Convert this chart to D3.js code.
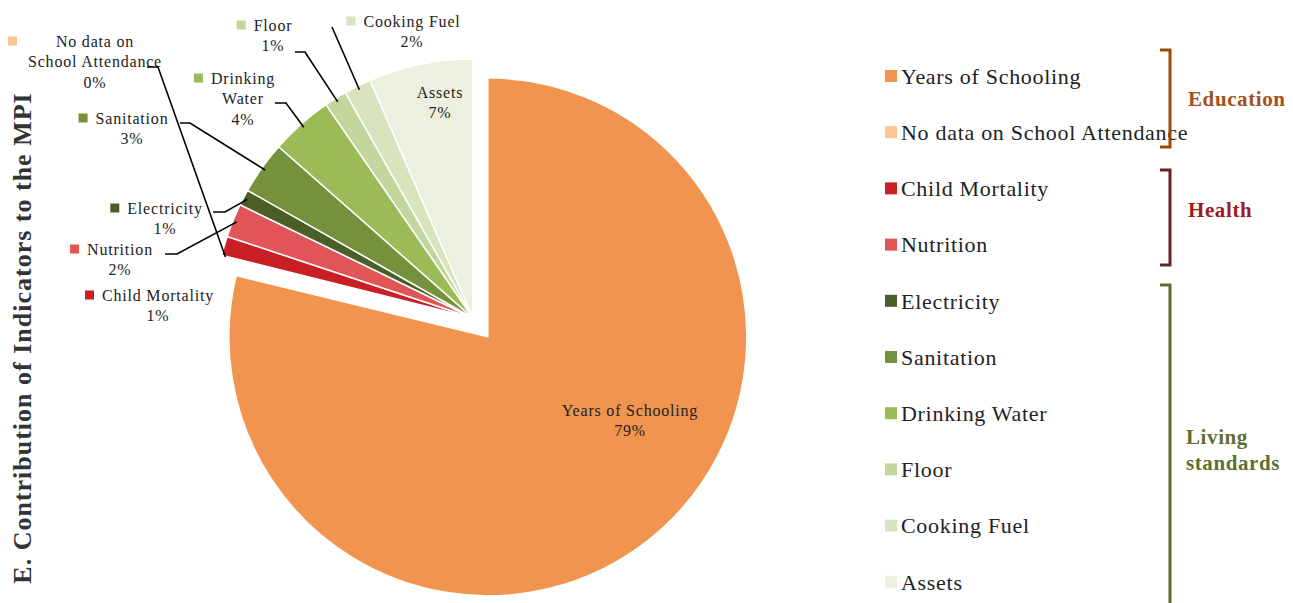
<!DOCTYPE html>
<html>
<head>
<meta charset="utf-8">
<script src="https://cdn.jsdelivr.net/npm/d3@7"></script>
<style>
  body { margin: 0; background: #fff; }
  text { font-family: "Liberation Serif", "DejaVu Serif", serif; fill: #222; }
</style>
</head>
<body>
<div id="chart"></div>
<script>
// indicator names, clockwise from 12 o'clock
let indicators = ["Years of Schooling", "No data on School Attendance", "Child Mortality", "Nutrition",
    "Electricity", "Sanitation", "Drinking Water", "Floor", "Cooking Fuel", "Assets"]
// share of the MPI (%)
let shares = [78.8, 0.1, 1.2, 2.1, 1.0, 3.3, 3.9, 1.4, 1.7, 6.5]
let colors = ["#f0944f", "#fcc690", "#c91f25", "#e15457", "#4b5e27", "#76913b", "#9bbb59", "#c3d69b", "#d7e4bd", "#ebf1de"]
// dimension groups for the bracket legend
let groups = ["Education", "Health", "Living standards"]
let groupSizes = [2, 2, 6]
let groupColors = ["#a0521a", "#9b1c22", "#5c7030"]
let bracketColors = ["#9c4a0b", "#6b2226", "#5a6e2e"]

let WIDTH = 1293, HEIGHT = 603
let CX = 473, CY = 318, R = 259
let EXPLODE = 24

let svg = d3.select("#chart").append("svg")
    .attr("width", WIDTH)
    .attr("height", HEIGHT)

// title on the left
svg.append("text")
    .attr("transform", `translate(31, 338) rotate(-90)`)
    .attr("text-anchor", "middle")
    .attr("font-size", "26px")
    .attr("letter-spacing", "1px")
    .attr("font-weight", "bold")
    .style("fill", "#333")
    .text("E. Contribution of Indicators to the MPI")

let data = indicators.map((name, i) => ({name: name, value: shares[i], color: colors[i]}))

let pie = d3.pie().sort(null).value(d => d.value)
let arcs = pie(data)
let arc = d3.arc().innerRadius(0).outerRadius(R)

let g = svg.append("g").attr("transform", `translate(${CX}, ${CY})`)

g.selectAll("path")
    .data(arcs)
    .enter().append("path")
    .attr("d", arc)
    .attr("fill", d => d.data.color)
    .attr("stroke", "#fff")
    .attr("stroke-width", 1.5)
    .attr("transform", (d, i) => {
        if (i != 0) return null
        let a = (d.startAngle + d.endAngle) / 2
        return `translate(${EXPLODE * Math.sin(a)}, ${-EXPLODE * Math.cos(a)})`
    })

// data labels (label box centre, leader line start)
let labelLayout = [
    {x: 157, y: 410, inside: true},
    {x: 95, y: 41, line: [147, 67, 158, 67]},
    {x: 158, y: 295},
    {x: 120, y: 249, line: [165, 254, 177, 254]},
    {x: 165, y: 208, line: [213, 212, 225, 212]},
    {x: 132, y: 118, line: [180, 123, 190, 123]},
    {x: 243, y: 78, line: [275, 103, 286, 103]},
    {x: 273, y: 25, line: [295, 52, 305, 52]},
    {x: 412, y: 21, line: [332, 27]},
    {x: 440, y: 92, inside: true}
]
let labelLines = {
    "No data on School Attendance": ["No data on", "School Attendance"],
    "Drinking Water": ["Drinking", "Water"]
}

let labels = svg.append("g")
arcs.forEach((d, i) => {
    let L = labelLayout[i]
    let lines = (labelLines[d.data.name] || [d.data.name]).concat([Math.round(d.data.value) + "%"])
    let cx = i == 0 ? CX + L.x : L.x
    let lg = labels.append("g")
    lines.forEach((t, k) => {
        let txt = lg.append("text")
            .attr("x", cx)
            .attr("y", L.y + k * 20.7)
            .attr("dy", "0.35em")
            .attr("text-anchor", "middle")
            .attr("font-size", "16px")
            .attr("letter-spacing", "0.8px")
            .text(t)
        if (k == 0 && !L.inside) {
            let w = txt.node().getComputedTextLength()
            let sx = i == 1 ? 8 : cx - w / 2 - 17
            lg.append("rect")
                .attr("x", sx)
                .attr("y", L.y - 4.5)
                .attr("width", 9)
                .attr("height", 9)
                .attr("fill", d.data.color)
        }
    })
    if (L.line) {
        let a = (d.startAngle + d.endAngle) / 2
        let ex = CX + (R - 4) * Math.sin(a)
        let ey = CY - (R - 4) * Math.cos(a)
        let pts = []
        for (let k = 0; k < L.line.length; k += 2) pts.push([L.line[k], L.line[k + 1]])
        pts.push([ex, ey])
        labels.append("path")
            .attr("d", d3.line()(pts))
            .attr("fill", "none")
            .attr("stroke", "#000")
            .attr("stroke-width", 1.6)
    }
})

// legend
let LEG_X = 885, LEG_Y = 76, LEG_STEP = 56.2
let legend = svg.append("g")
data.forEach((d, i) => {
    legend.append("rect")
        .attr("x", LEG_X)
        .attr("y", LEG_Y + i * LEG_STEP - 6)
        .attr("width", 12)
        .attr("height", 12)
        .attr("fill", d.color)
    legend.append("text")
        .attr("x", LEG_X + 16)
        .attr("y", LEG_Y + i * LEG_STEP)
        .attr("dy", "0.35em")
        .attr("font-size", "22px")
        .attr("letter-spacing", "0.7px")
        .text(d.name)
})

// brackets
let bracketSpans = [[50, 147], [170, 265], [285, 615]]
let groupLabelY = [[99], [210], [437, 463]]
let groupLabelLines = [["Education"], ["Health"], ["Living", "standards"]]
let BX = 1170
groups.forEach((grp, i) => {
    let s = bracketSpans[i]
    legend.append("path")
        .attr("d", `M${BX - 10},${s[0]} L${BX},${s[0]} L${BX},${s[1]} L${BX - 10},${s[1]}`)
        .attr("fill", "none")
        .attr("stroke", bracketColors[i])
        .attr("stroke-width", 3)
    groupLabelLines[i].forEach((t, k) => {
        legend.append("text")
            .attr("x", i == 2 ? 1186 : 1188)
            .attr("y", groupLabelY[i][k])
            .attr("dy", "0.35em")
            .attr("font-size", "21px")
            .attr("letter-spacing", "0.6px")
            .attr("font-weight", "bold")
            .style("fill", groupColors[i])
            .text(t)
    })
})
</script>
</body>
</html>
